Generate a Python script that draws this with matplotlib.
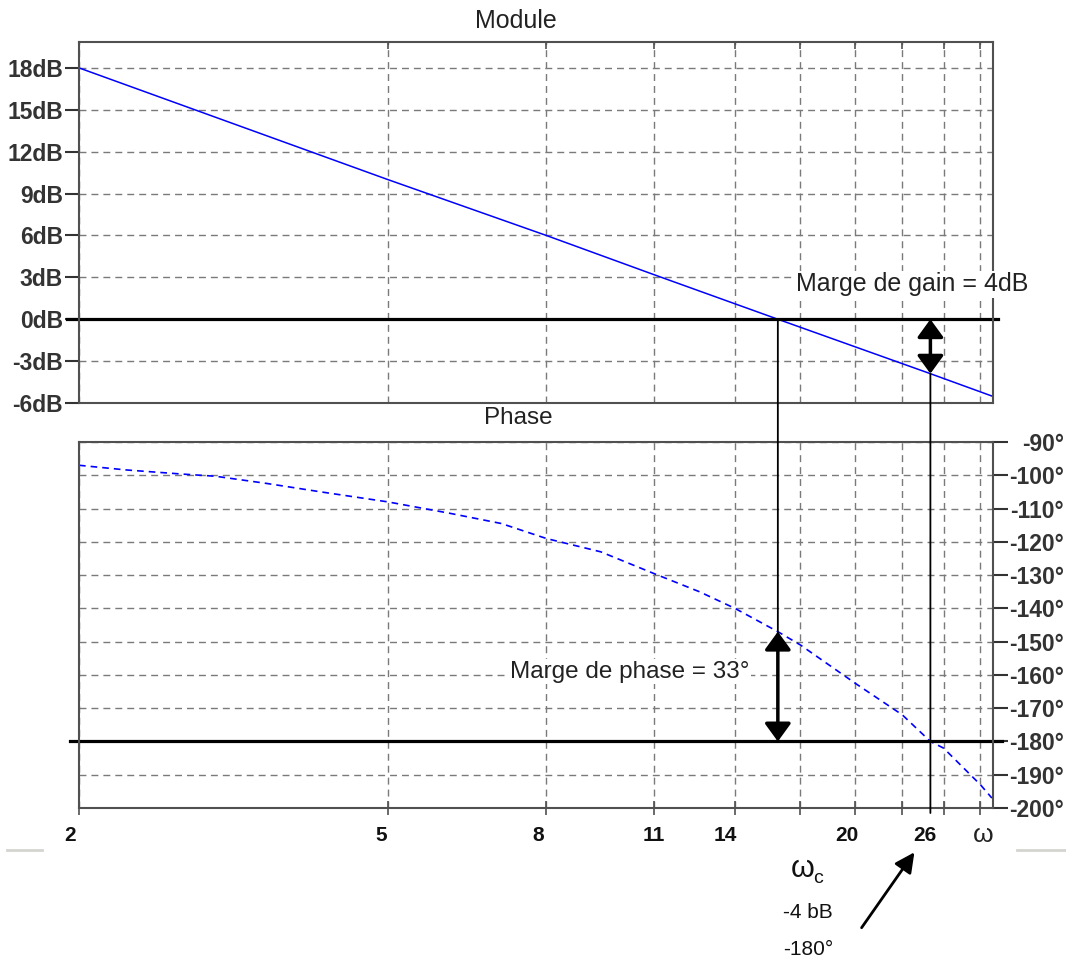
import matplotlib
matplotlib.use("Agg")
import matplotlib.pyplot as plt
from matplotlib.patches import ConnectionPatch, FancyArrowPatch
from matplotlib.lines import Line2D
from matplotlib.ticker import NullLocator
from matplotlib.transforms import blended_transform_factory

plt.rcParams['font.family'] = ['Liberation Sans', 'DejaVu Sans']

w_mod = [2, 5, 8, 11, 15.9, 25, 30]
mod_db = [18, 10, 6, 3.2, 0, -3.9, -5.5]

w_phase = [2.0, 2.3, 2.7, 3.0, 3.5, 4.1, 5.0, 6.0, 7.0, 8.0, 9.4, 11,
           12.6, 14, 15.9, 17, 20, 23, 25, 26, 29, 30]
phase_deg = [-97, -98.4, -99.6, -100.3, -102.5, -105, -108, -111.4, -114.5,
             -119, -123, -129.5, -135, -140, -147, -151, -162.5, -172, -180,
             -182, -193, -197]

db_ticks = [18, 15, 12, 9, 6, 3, 0, -3, -6]
deg_ticks = [-90, -100, -110, -120, -130, -140, -150, -160, -170, -180, -190, -200]
grid_w = [2, 5, 8, 11, 14, 17, 20, 23, 26, 29]
w_labels = ['2', '5', '8', '11', '14', '20', '26', 'ω']
w_label_pos = [1.95, 4.9, 7.8, 11, 13.6, 19.5, 24.6, 29.2]

wc = 15.9        # 0 dB
w180 = 25        # phase = -180°
gain_180 = -3.9
phase_wc = -147

grid_col = '#7a7a7a'
grid_ls = (0, (5, 3.6))
spine_col = '#505050'
txt_col = '#333333'

fig = plt.figure(figsize=(10.66, 9.6), dpi=100)
ax1 = fig.add_axes([0.0741, 0.5802, 0.8574, 0.3760])
ax2 = fig.add_axes([0.0741, 0.1583, 0.8574, 0.3813])

for ax in (ax1, ax2):
    ax.set_xscale('log')
    ax.set_xlim(2, 30.1)
    ax.set_xticks(grid_w)
    ax.set_xticklabels([])
    ax.xaxis.set_minor_locator(NullLocator())
    ax.grid(True, color=grid_col, linestyle=grid_ls, linewidth=1)
    ax.set_axisbelow(True)
    for s in ax.spines.values():
        s.set_color(spine_col)
        s.set_linewidth(1.5)

# ---- module
ax1.plot(w_mod, mod_db, color='#0000ff', lw=1.1)
ax1.set_ylim(-6, 19.85)
ax1.set_yticks(db_ticks)
ax1.set_yticklabels([f"{v}dB" for v in db_ticks], fontsize=16.5,
                    fontweight='bold', color=txt_col)
ax1.tick_params(axis='y', direction='out', length=10, width=1.5,
                color='#333333', pad=1.5)
ax1.tick_params(axis='x', top=True, bottom=False, direction='in',
                length=5, width=1.2, color=spine_col)
ax1.axhline(0, xmin=-0.013, xmax=1.0055, color='k', lw=2.3, clip_on=False)

# ---- phase
ax2.plot(w_phase, phase_deg, color='#0000ff', lw=1.2, linestyle=(0, (4, 3)))
ax2.set_ylim(-200, -90)
ax2.set_yticks(deg_ticks)
ax2.yaxis.tick_right()
ax2.set_yticklabels([f"{v}°" for v in deg_ticks], fontsize=16.5,
                    fontweight='bold', color=txt_col)
for lab in ax2.get_yticklabels():
    lab.set_horizontalalignment('right')
ax2.tick_params(axis='y', direction='out', length=11, width=1.5,
                color='#333333', pad=40, left=False)
ax2.tick_params(axis='x', direction='inout', length=10, width=1.2,
                color=spine_col)
ax2.axhline(-180, xmin=-0.01, xmax=1.0098, color='k', lw=2.3, clip_on=False)

trans = blended_transform_factory(ax2.transData, ax2.transAxes)
for pos, lab in zip(w_label_pos, w_labels):
    if lab == 'ω':
        ax2.text(pos, -0.074, lab, transform=trans, ha='center', va='center',
                 fontsize=19, color='#222222')
    else:
        ax2.text(pos, -0.074, lab, transform=trans, ha='center', va='center',
                 fontsize=15, fontweight='bold', color='#111111')

# lignes verticales entre les deux graphes
con1 = ConnectionPatch(xyA=(wc, 0), coordsA=ax1.transData,
                       xyB=(wc, -180), coordsB=ax2.transData,
                       color='k', lw=1.3)
fig.add_artist(con1)
con2 = ConnectionPatch(xyA=(w180, gain_180), coordsA=ax1.transData,
                       xyB=(w180, -201.5), coordsB=ax2.transData,
                       color='k', lw=1.3)
fig.add_artist(con2)

dbl = '<|-|>,head_length=0.55,head_width=0.4'
ax1.annotate('', xy=(w180, 0), xytext=(w180, gain_180),
             arrowprops=dict(arrowstyle=dbl, color='k', lw=2.5,
                             mutation_scale=20, shrinkA=0, shrinkB=0))
ax2.annotate('', xy=(wc, phase_wc), xytext=(wc, -180),
             arrowprops=dict(arrowstyle=dbl, color='k', lw=2.5,
                             mutation_scale=20, shrinkA=0, shrinkB=0))

box = dict(facecolor='white', edgecolor='none', pad=1)
ax1.text(16.8, 2.5, 'Marge de gain = 4dB', fontsize=18, va='center',
         color='#222222', bbox=box)
ax2.text(7.19, -159.1, 'Marge de phase = 33°', fontsize=17.5, va='center',
         color='#222222', bbox=box)

W, H = 1066, 960
fig.text(516 / W, 1 - 21 / H, 'Module', ha='center', va='center',
         fontsize=18, color='#222222', bbox=box)
fig.text(518 / W, 1 - 418 / H, 'Phase', ha='center', va='center',
         fontsize=17.5, color='#222222', bbox=box)

fig.text(803 / W, 1 - 877 / H, 'ω', ha='center', va='baseline',
         fontsize=22, color='#111111')
fig.text(818 / W, 1 - 883 / H, 'c', ha='center', va='baseline',
         fontsize=14, color='#111111')
fig.text(808 / W, 1 - 918 / H, '-4 bB', ha='center', va='baseline',
         fontsize=15, color='#111111')
fig.text(808 / W, 1 - 955 / H, '-180°', ha='center', va='baseline',
         fontsize=15, color='#111111')

fig.add_artist(FancyArrowPatch((860 / W, 1 - 930 / H), (916 / W, 1 - 850 / H),
                               transform=fig.transFigure,
                               arrowstyle='-|>,head_length=0.6,head_width=0.3',
                               mutation_scale=20, color='k', lw=2))

fig.add_artist(Line2D([7 / W, 42 / W], [1 - 850 / H] * 2,
                      transform=fig.transFigure, color='#d4d4d0', lw=2))
fig.add_artist(Line2D([1017 / W, 1 - 0.5 / W], [1 - 850 / H] * 2,
                      transform=fig.transFigure, color='#d4d4d0', lw=2))

fig.savefig('out.png', dpi=100)
